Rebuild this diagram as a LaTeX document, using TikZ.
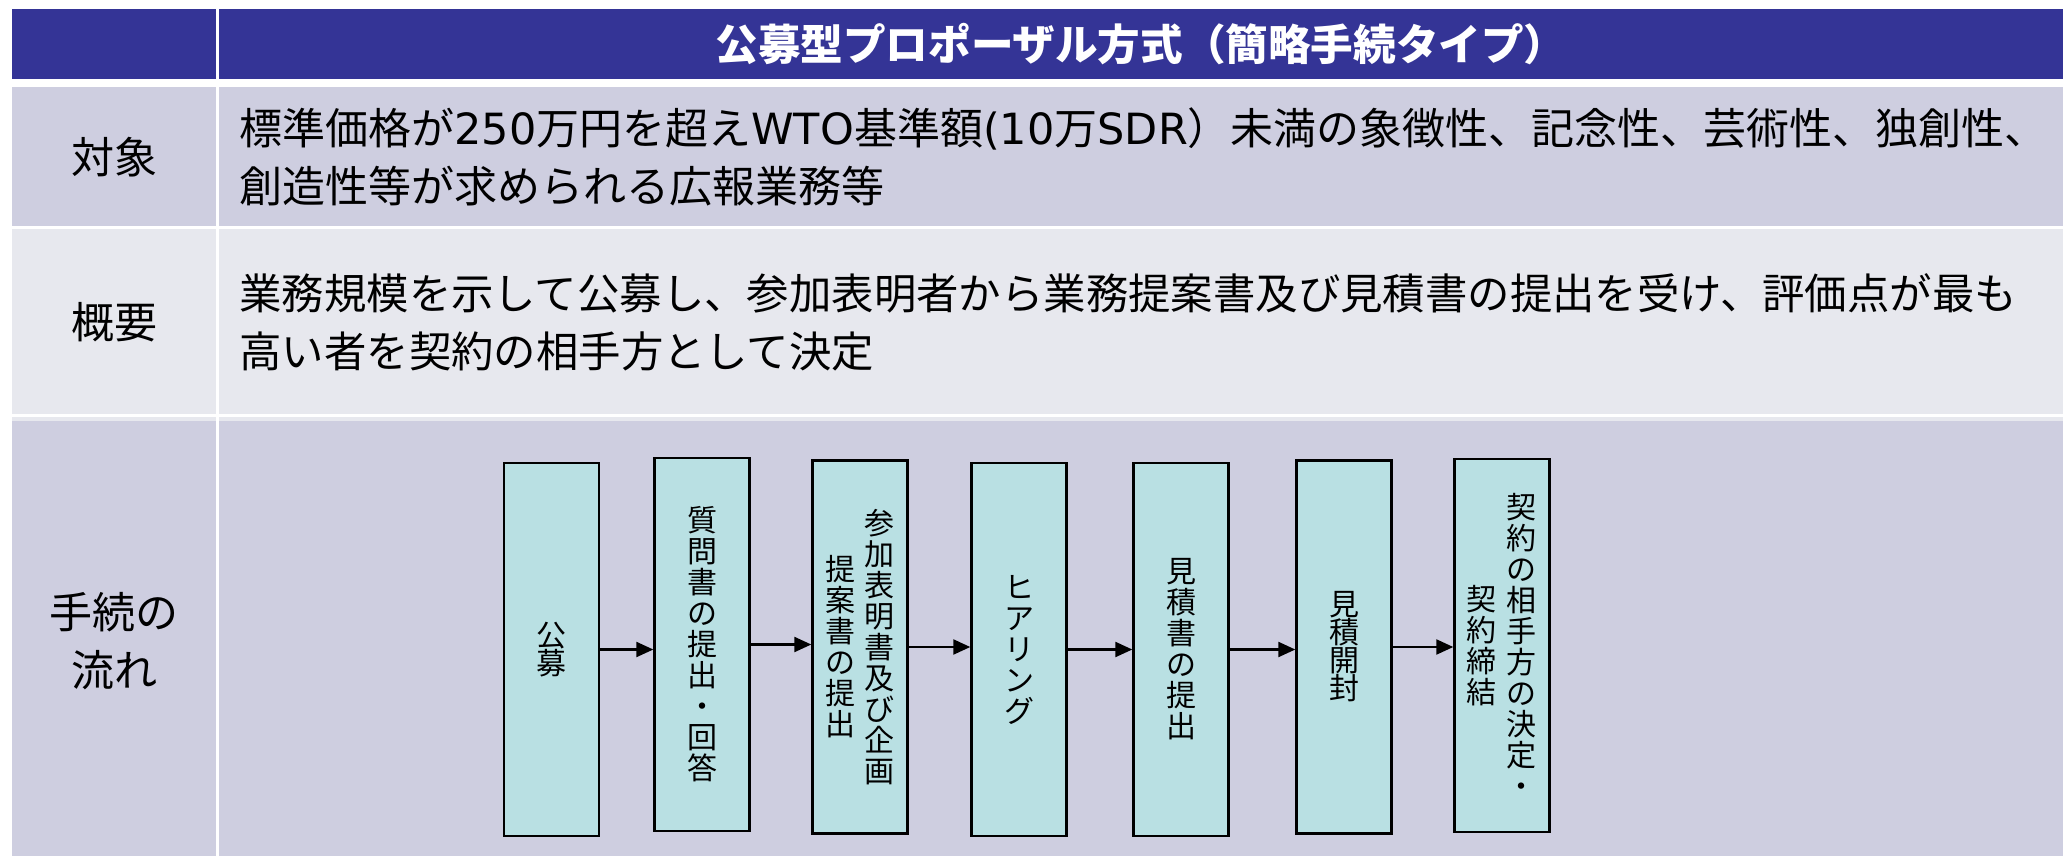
\documentclass[tikz,border=0pt]{standalone}
\usepackage{fontspec}
\setmainfont{Noto Sans CJK JP}
\newfontfamily\latfont{DejaVu Sans}
\usetikzlibrary{arrows.meta}
\definecolor{hdrblue}{RGB}{52,52,150}
\definecolor{rowdark}{RGB}{206,206,224}
\definecolor{rowlight}{RGB}{231,232,238}
\definecolor{boxfill}{RGB}{185,224,227}
\tikzset{
  lbl/.style={font=\fontsize{21.5}{29}\selectfont, inner sep=0pt, align=center},
  bodytxt/.style={font=\fontsize{21.5}{29}\selectfont, inner sep=0pt, align=left, anchor=west},
  ttl/.style={font=\fontsize{21.3}{26}\selectfont\bfseries, text=white, inner sep=0pt},
  stepbox/.style={draw=black, line width=1.2pt, fill=boxfill, minimum width=47.5pt, minimum height=186.5pt, inner sep=0pt},
  vtxt/.style={font=\fontsize{15}{15.5}\selectfont, align=center, inner sep=0pt},
  vtxtn/.style={font=\fontsize{15}{14}\selectfont, align=center, inner sep=0pt},
  flow/.style={line width=1.1pt, -{Triangle[length=8.5pt,width=7.5pt]}}
}
\begin{document}
\begin{tikzpicture}[x=0.5pt,y=-0.5pt]
\useasboundingbox (0,0) rectangle (2063,856);
% table cells
\fill[hdrblue] (12,9) rectangle (216,79);
\fill[hdrblue] (219,9) rectangle (2063,79);
\fill[rowdark] (12,87) rectangle (216,226);
\fill[rowdark] (219,87) rectangle (2063,226);
\fill[rowlight] (12,229) rectangle (216,414);
\fill[rowlight] (219,229) rectangle (2063,414);
\fill[rowlight] (12,417) rectangle (216,421);
\fill[rowlight] (219,417) rectangle (2063,421);
\fill[rowdark] (12,421) rectangle (216,856);
\fill[rowdark] (219,421) rectangle (2063,856);
% header
\node[ttl] (title) at (1141,44) {公募型プロポーザル方式（簡略手続タイプ）};
% row labels
\node[lbl] (l1) at (114,157) {対象};
\node[lbl] (l2) at (114,322) {概要};
\node[lbl] (l3) at (114,641) {手続の\\流れ};
% row texts
\node[bodytxt] (r1) at (239,157) {標準価格が{\latfont 250}万円を超え{\latfont WTO}基準額{\latfont (10}万{\latfont SDR}）未満の象徴性、記念性、芸術性、独創性、\\創造性等が求められる広報業務等};
\node[bodytxt, font=\fontsize{21.2}{29}\selectfont] (r2) at (239,322) {業務規模を示して公募し、参加表明者から業務提案書及び見積書の提出を受け、評価点が最も\\高い者を契約の相手方として決定};
% flow boxes
\node[stepbox] (s1) at (551.5,649.5) {};
\node[stepbox] (s2) at (702,644.5) {};
\node[stepbox] (s3) at (860,647) {};
\node[stepbox] (s4) at (1019,649.5) {};
\node[stepbox] (s5) at (1181,649.5) {};
\node[stepbox] (s6) at (1344,647) {};
\node[stepbox] (s7) at (1502,645.5) {};
% box texts
\node[vtxtn] (t1) at (s1.center) {公\\募};
\node[vtxt] (t2) at (s2.center) {質\\問\\書\\の\\提\\出\\・\\回\\答};
\node[vtxt] (t3a) at ([xshift=9.5pt]s3.center) {参\\加\\表\\明\\書\\及\\び\\企\\画};
\node[vtxt] (t3b) at ([xshift=-10pt]s3.center) {提\\案\\書\\の\\提\\出};
\node[vtxt] (t4) at (s4.center) {ヒ\\ア\\リ\\ン\\グ};
\node[vtxt] (t5) at (s5.center) {見\\積\\書\\の\\提\\出};
\node[vtxtn] (t6) at (s6.center) {見\\積\\開\\封};
\node[vtxt] (t7a) at ([xshift=9.5pt]s7.center) {契\\約\\の\\相\\手\\方\\の\\決\\定\\・};
\node[vtxt] (t7b) at ([xshift=-10.5pt]s7.center) {契\\約\\締\\結};
% arrows
\draw[flow] (s1.east) -- (s1.east -| s2.west);
\draw[flow] (s2.east) -- (s2.east -| s3.west);
\draw[flow] (s3.east) -- (s3.east -| s4.west);
\draw[flow] (s4.east) -- (s4.east -| s5.west);
\draw[flow] (s5.east) -- (s5.east -| s6.west);
\draw[flow] (s6.east) -- (s6.east -| s7.west);
\end{tikzpicture}
\end{document}
